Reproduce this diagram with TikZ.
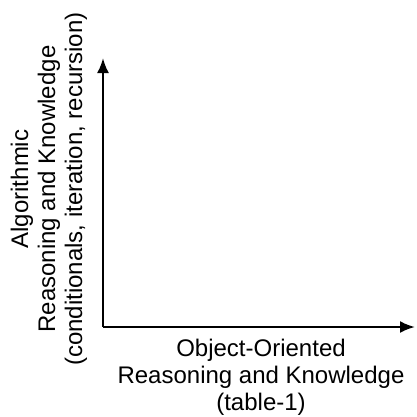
\documentclass[tikz,border=0pt]{standalone}
\usepackage{fontspec}
\setmainfont{Liberation Sans}
\usetikzlibrary{arrows.meta}
\begin{document}
\begin{tikzpicture}[x=1pt,y=1pt,
  axis/.style={line width=2.4pt,-{Latex[length=15pt,width=12pt]}},
  lbl/.style={inner sep=0pt,anchor=base,font=\fontsize{24}{27}\selectfont}]
\useasboundingbox (0,0) rectangle (417,416);
% axes
\coordinate (O) at (103,89);
\coordinate (ytip) at (103,358);
\coordinate (xtip) at (415,89);
\draw[axis] (O) -- (ytip);
\draw[axis] (O) -- (xtip);
% vertical axis title
\node[lbl,rotate=90] (y1) at (28,227) {Algorithmic};
\node[lbl,rotate=90] (y2) at (55,227) {Reasoning and Knowledge};
\node[lbl,rotate=90] (y3) at (82,227) {(conditionals, iteration, recursion)};
% horizontal axis title
\node[lbl] (x1) at (261,60) {Object-Oriented};
\node[lbl] (x2) at (261,33) {Reasoning and Knowledge};
\node[lbl] (x3) at (261,6) {(table-1)};
\end{tikzpicture}
\end{document}
